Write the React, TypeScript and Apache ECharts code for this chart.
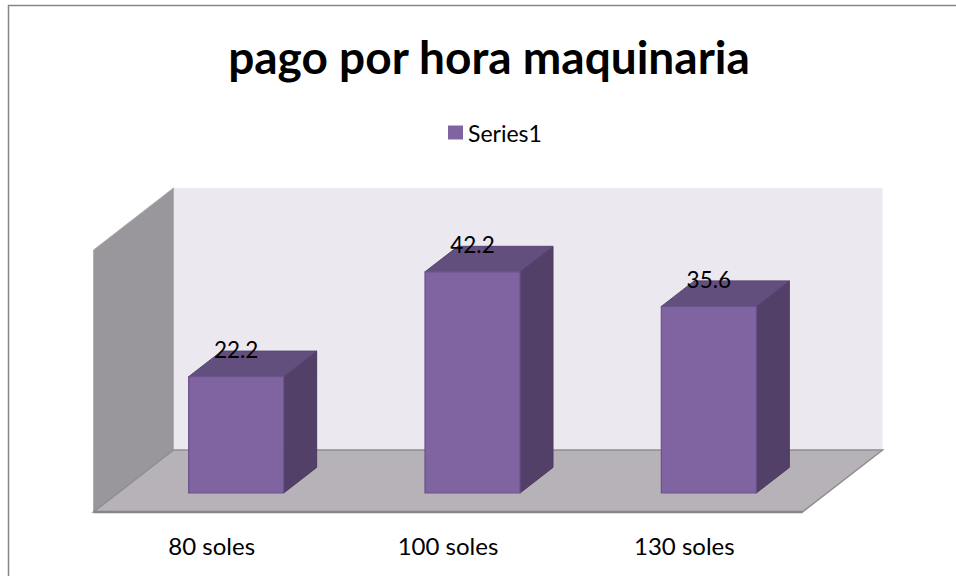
import React, { useEffect, useRef } from "react";
import * as echarts from "echarts";

const titleText = "pago por hora maquinaria";
const seriesName = "Series1";
const categories = ["80 soles", "100 soles", "130 soles"];
const values = [22.2, 42.2, 35.6];
const yMin = 0;
const yMax = 50;

// 3D style ratios (relative to the category band width)
const FLOOR_DEPTH = 0.3385; // x-extent of the floor depth
const SLOPE = 0.775; // dy/dx of the depth direction
const FRONT_T = 0.306; // bar front plane position along floor depth
const BAR_W = 0.402;
const BAR_DEPTH = 0.1396;

const FONT = "Lato, 'Open Sans', sans-serif";

export default function App() {
  const ref = useRef<HTMLDivElement>(null);
  useEffect(() => {
    const chart = echarts.init(ref.current!, null, { renderer: "svg" });

    const wallsRender = (params: any, api: any) => {
      const cs = params.coordSys;
      const band = api.size([1, 0])[0];
      const dX = band * FLOOR_DEPTH;
      const dY = dX * SLOPE;
      const P = (x: number, y: number, t: number) => [
        x + (t - FRONT_T) * dX,
        y - (t - FRONT_T) * dY,
      ];
      const gx = cs.x, gy = cs.y, gw = cs.width, gh = cs.height;
      const base = gy + gh;
      return {
        type: "group",
        children: [
          {
            type: "polygon",
            shape: { points: [P(gx, gy, 1), P(gx + gw, gy, 1), P(gx + gw, base, 1), P(gx, base, 1)] },
            style: { fill: "#ebe8f0", stroke: "none" },
          },
          {
            type: "polygon",
            shape: { points: [P(gx, gy, 0), P(gx, gy, 1), P(gx, base, 1), P(gx, base, 0)] },
            style: { fill: "#99979b", stroke: "#b0aeb2", lineWidth: 1 },
          },
          {
            type: "polygon",
            shape: { points: [P(gx, base, 0), P(gx, base, 1), P(gx + gw, base, 1), P(gx + gw, base, 0)] },
            style: { fill: "#b6b2b8", stroke: "#8e8e8e", lineWidth: 1.5 },
          },
          {
            type: "line",
            shape: (() => {
              const a = P(gx, base, 0), b = P(gx + gw, base, 0);
              return { x1: a[0], y1: a[1], x2: b[0], y2: b[1] };
            })(),
            style: { stroke: "#868686", lineWidth: 2.5 },
          },
        ],
      };
    };

    const barRender = (params: any, api: any) => {
      const xi = api.value(0);
      const v = api.value(1);
      const baseP = api.coord([xi, 0]);
      const topP = api.coord([xi, v]);
      const band = api.size([1, 0])[0];
      const w = band * BAR_W;
      const dx = band * BAR_DEPTH;
      const dy = dx * SLOPE;
      const x0 = baseP[0] - w / 2;
      const x1 = baseP[0] + w / 2;
      const yb = baseP[1];
      const yt = topP[1];
      return {
        type: "group",
        children: [
          {
            type: "polygon",
            shape: { points: [[x1, yt], [x1 + dx, yt - dy], [x1 + dx, yb - dy], [x1, yb]] },
            style: { fill: "#524069", stroke: "#4a3a60", lineWidth: 1 },
          },
          {
            type: "polygon",
            shape: { points: [[x0, yt], [x0 + dx, yt - dy], [x1 + dx, yt - dy], [x1, yt]] },
            style: { fill: "#634f7e", stroke: "#574571", lineWidth: 1 },
          },
          {
            type: "rect",
            shape: { x: x0, y: yt, width: w, height: yb - yt },
            style: { fill: "#8064a2", stroke: "#6a528a", lineWidth: 1.2 },
          },
          {
            type: "text",
            x: baseP[0],
            y: yt - 27,
            style: {
              text: String(v),
              fill: "#000",
              font: `22.5px ${FONT}`,
              align: "center",
              verticalAlign: "middle",
            },
          },
        ],
      };
    };

    chart.setOption({
      animation: false,
      backgroundColor: "#ffffff",
      title: {
        text: titleText,
        left: 484,
        textAlign: "center",
        top: 28,
        textStyle: { fontFamily: FONT, fontWeight: "bold", fontSize: 46, color: "#000" },
      },
      legend: {
        data: [seriesName],
        left: 443,
        top: 116,
        icon: "rect",
        itemWidth: 15,
        itemHeight: 14,
        itemGap: 10,
        textStyle: { fontFamily: FONT, fontSize: 23, color: "#000" },
      },
      grid: [
        { left: 118, top: 231, width: 709, height: 262 },
        { left: 93.5, top: 250, width: 709, height: 262 },
      ],
      xAxis: [
        {
          gridIndex: 0,
          type: "category",
          data: categories,
          axisLine: { show: false },
          axisTick: { show: false },
          axisLabel: { show: false },
        },
        {
          gridIndex: 1,
          type: "category",
          data: categories,
          axisLine: { show: false },
          axisTick: { show: false },
          axisLabel: { margin: 21, fontFamily: FONT, fontSize: 24, color: "#000" },
        },
      ],
      yAxis: [
        { gridIndex: 0, type: "value", min: yMin, max: yMax, show: false, splitLine: { show: false } },
        { gridIndex: 1, type: "value", min: yMin, max: yMax, show: false, splitLine: { show: false } },
      ],
      graphic: [
        {
          type: "rect",
          shape: { x: 8.5, y: 5.5, width: 1200, height: 1200 },
          style: { fill: "none", stroke: "#868686", lineWidth: 1.5 },
          z: 100,
          silent: true,
        },
      ],
      series: [
        {
          name: "walls",
          type: "custom",
          xAxisIndex: 0,
          yAxisIndex: 0,
          clip: false,
          z: 1,
          renderItem: wallsRender,
          data: [[0, 0]],
          silent: true,
        },
        {
          name: seriesName,
          type: "custom",
          xAxisIndex: 0,
          yAxisIndex: 0,
          clip: false,
          z: 2,
          itemStyle: { color: "#8064a2" },
          renderItem: barRender,
          data: values.map((v, i) => [i, v]),
        },
      ],
    });
    return () => chart.dispose();
  }, []);
  return (
    <div
      ref={ref}
      style={{ position: "absolute", left: 0, top: 0, width: 956, height: 576 }}
    />
  );
}
